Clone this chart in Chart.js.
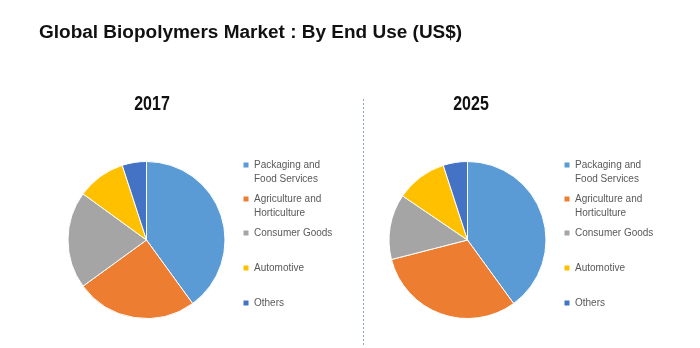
<!DOCTYPE html>
<html>
<head>
<meta charset="utf-8">
<script src="https://cdn.jsdelivr.net/npm/chart.js@4/dist/chart.umd.min.js"></script>
<style>
  html, body { margin: 0; padding: 0; background: #fff; }
  #wrap { position: relative; width: 700px; height: 348px; }
  #wrap canvas { position: absolute; left: 0; top: 0; }
</style>
</head>
<body>
<div id="wrap">
  <canvas id="pie2017" width="700" height="348"></canvas>
  <canvas id="pie2025" width="700" height="348"></canvas>
</div>
<script>
// Data (share of market, %)
const categories = ['Packaging and Food Services', 'Agriculture and Horticulture', 'Consumer Goods', 'Automotive', 'Others'];
const legendLines = [['Packaging and', 'Food Services'], ['Agriculture and', 'Horticulture'], ['Consumer Goods'], ['Automotive'], ['Others']];
const share2017 = [40, 25, 20, 10, 5];
const share2025 = [40, 31, 13.5, 10.5, 5];
const sliceColors = ['#5B9BD5', '#ED7D31', '#A5A5A5', '#FFC000', '#4472C4'];

const FONT = '"Liberation Sans", Arial, sans-serif';
const legendRowY = [165, 199, 233, 268, 303];

// text drawn with a horizontal stretch factor (the source image is not square-pixel)
function stretchedText(ctx, text, x, y, sx) {
  ctx.save();
  ctx.translate(x, y);
  ctx.scale(sx, 1);
  ctx.fillText(text, 0, 0);
  ctx.restore();
}

/**
 * Draws the year heading and a legend beside the pie
 */
function overlayPlugin(opts) {
  return {
    id: 'overlay',
    afterDraw(chart) {
      const ctx = chart.ctx;
      ctx.save();

      if (opts.mainTitle) {
        ctx.fillStyle = '#111';
        ctx.font = 'bold 18px ' + FONT;
        ctx.textAlign = 'left';
        ctx.textBaseline = 'middle';
        stretchedText(ctx, opts.mainTitle, 39, 33, 1.055);

        // dashed divider between the two pies
        ctx.strokeStyle = '#8EA3BC';
        ctx.lineWidth = 1;
        ctx.setLineDash([2, 2]);
        ctx.beginPath();
        ctx.moveTo(363.5, 99);
        ctx.lineTo(363.5, 346);
        ctx.stroke();
        ctx.setLineDash([]);
      }

      // year heading
      ctx.fillStyle = '#111';
      ctx.font = 'bold 20px ' + FONT;
      ctx.textAlign = 'center';
      ctx.textBaseline = 'middle';
      stretchedText(ctx, opts.year, opts.yearX, 104, 0.8);

      // legend
      const colors = chart.data.datasets[0].backgroundColor;
      ctx.font = '10px ' + FONT;
      ctx.textAlign = 'left';
      legendLines.forEach((lines, i) => {
        const y = legendRowY[i];
        ctx.fillStyle = colors[i];
        ctx.fillRect(opts.legendX - 2.5, y - 2.5, 5, 5);
        ctx.fillStyle = '#595959';
        lines.forEach((line, j) => {
          ctx.fillText(line, opts.legendX + 8, y + 0.5 + j * 14);
        });
      });

      ctx.restore();
    }
  };
}

function makePie(canvasId, values, padding, overlay) {
  return new Chart(document.getElementById(canvasId), {
    type: 'pie',
    data: {
      labels: categories,
      datasets: [{
        data: values,
        backgroundColor: sliceColors,
        borderColor: '#ffffff',
        borderWidth: 1
      }]
    },
    options: {
      responsive: false,
      devicePixelRatio: 1,
      animation: false,
      layout: { padding: padding },
      plugins: {
        legend: { display: false },
        title: { display: false },
        tooltip: { enabled: false }
      }
    },
    plugins: [overlayPlugin(overlay)]
  });
}

makePie('pie2017', share2017,
  { left: 67, right: 474, top: 161, bottom: 29 },
  { mainTitle: 'Global Biopolymers Market : By End Use (US$)', year: '2017', yearX: 152, legendX: 246 });

makePie('pie2025', share2025,
  { left: 388, right: 153, top: 161, bottom: 29 },
  { year: '2025', yearX: 471, legendX: 567 });
</script>
</body>
</html>
